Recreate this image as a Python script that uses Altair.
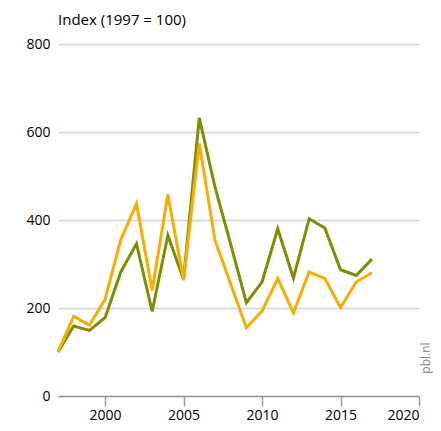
import altair as alt
import pandas as pd

years = list(range(1997, 2018))
series_green = [100, 159, 149, 178, 282, 346, 192, 365, 265, 632, 475, 345, 212, 259, 380, 268, 403, 382, 287, 274, 311]
series_orange = [100, 181, 161, 220, 355, 437, 240, 458, 263, 574, 354, 255, 155, 193, 267, 189, 282, 267, 201, 259, 280]
series_names = ["Reeks A", "Reeks B"]
colors = ["#7f8d00", "#f7ae00"]
x_ticks = [2000, 2005, 2010, 2015, 2020]
y_ticks = [0, 200, 400, 600, 800]

rows = []
for y, a, b in zip(years, series_green, series_orange):
    rows.append({"jaar": y, "serie": series_names[0], "index": a})
    rows.append({"jaar": y, "serie": series_names[1], "index": b})
df = pd.DataFrame(rows)

FONT = "Open Sans"

lines = alt.Chart(df).mark_line(strokeWidth=3, strokeJoin="miter").encode(
    x=alt.X("jaar:Q", scale=alt.Scale(domain=[1997, 2020], nice=False, zero=False),
            axis=alt.Axis(values=x_ticks, format="d", title=None, grid=False,
                          domainColor="#999999", domainWidth=1.5,
                          tickColor="#999999", tickSize=10, tickWidth=1.5,
                          labelPadding=2, labelFontSize=14, labelFont=FONT,
                          labelColor="#000000")),
    y=alt.Y("index:Q", scale=alt.Scale(domain=[0, 800], nice=False),
            axis=alt.Axis(values=y_ticks, title=None, domain=False, ticks=False,
                          gridColor="#d3d3d3", gridWidth=1.5,
                          labelPadding=8, labelFontSize=14, labelFont=FONT,
                          labelColor="#000000")),
    color=alt.Color("serie:N", scale=alt.Scale(domain=series_names, range=colors), legend=None),
)

title_text = alt.Chart(pd.DataFrame({"t": ["Index (1997 = 100)"]})).mark_text(
    align="left", baseline="middle", fontSize=15, font=FONT, color="#000000"
).encode(x=alt.value(0), y=alt.value(-24), text="t:N")

pbl = alt.Chart(pd.DataFrame({"t": ["pbl.nl"]})).mark_text(
    align="center", baseline="middle", fontSize=12, font=FONT, color="#888888", angle=270
).encode(x=alt.value(368), y=alt.value(314), text="t:N")

chart = alt.layer(lines, title_text, pbl).properties(
    width=361, height=352,
    autosize=alt.AutoSizeParams(type="none"),
    padding={"left": 50, "top": 36, "right": 14, "bottom": 27},
).configure_view(stroke=None)

chart.save("out.html", embed_options={"renderer": "svg", "actions": False})
